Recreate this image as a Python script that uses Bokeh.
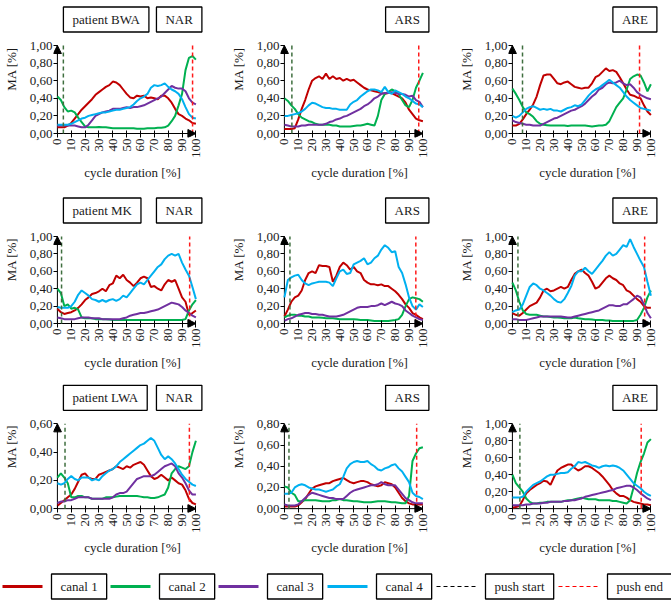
import math

from bokeh.plotting import figure
from bokeh.layouts import row, column
from bokeh.models import Label, Arrow, NormalHead, FixedTicker, CustomJSTickFormatter
from bokeh.embed import file_html
from bokeh.resources import INLINE

FONT = "Liberation Serif"
TEXT = "#1a1a1a"

cycle = [0, 2.5, 5, 7.5, 10, 12.5, 15, 17.5, 20, 22.5,
         25, 27.5, 30, 32.5, 35, 37.5, 40, 42.5, 45, 47.5,
         50, 52.5, 55, 57.5, 60, 62.5, 65, 67.5, 70, 72.5,
         75, 77.5, 80, 82.5, 85, 87.5, 90, 92.5, 95, 97.5,
         100]

# patient BWA
bwa_nar_c1 = [0.07, 0.07, 0.07, 0.09, 0.12, 0.17, 0.22, 0.27, 0.31, 0.35,
              0.39, 0.44, 0.47, 0.50, 0.53, 0.55, 0.59, 0.58, 0.55, 0.50,
              0.45, 0.41, 0.40, 0.43, 0.42, 0.43, 0.40, 0.41, 0.40, 0.39,
              0.43, 0.43, 0.40, 0.35, 0.28, 0.22, 0.20, 0.17, 0.15, 0.12,
              0.11]
bwa_nar_c2 = [0.42, 0.38, 0.30, 0.25, 0.26, 0.24, 0.18, 0.13, 0.08, 0.07,
              0.07, 0.07, 0.075, 0.07, 0.07, 0.065, 0.06, 0.06, 0.06, 0.06,
              0.06, 0.06, 0.06, 0.055, 0.055, 0.055, 0.06, 0.06, 0.06, 0.065,
              0.065, 0.07, 0.09, 0.14, 0.20, 0.32, 0.45, 0.72, 0.86, 0.88,
              0.84]
bwa_nar_c3 = [0.09, 0.09, 0.09, 0.09, 0.09, 0.09, 0.08, 0.07, 0.07, 0.10,
              0.15, 0.20, 0.22, 0.24, 0.25, 0.26, 0.28, 0.28, 0.28, 0.29,
              0.30, 0.29, 0.30, 0.30, 0.31, 0.32, 0.34, 0.36, 0.38, 0.40,
              0.42, 0.46, 0.50, 0.54, 0.52, 0.51, 0.51, 0.48, 0.40, 0.35,
              0.33]
bwa_nar_c4 = [0.10, 0.10, 0.10, 0.10, 0.11, 0.13, 0.15, 0.17, 0.18, 0.20,
              0.21, 0.22, 0.23, 0.24, 0.24, 0.25, 0.26, 0.27, 0.27, 0.28,
              0.29, 0.30, 0.33, 0.37, 0.40, 0.42, 0.45, 0.52, 0.55, 0.54,
              0.55, 0.57, 0.53, 0.50, 0.48, 0.45, 0.39, 0.30, 0.22, 0.18,
              0.17]

bwa_ars_c1 = [0.05, 0.05, 0.05, 0.06, 0.16, 0.28, 0.38, 0.50, 0.60, 0.63,
              0.65, 0.62, 0.68, 0.62, 0.65, 0.62, 0.63, 0.60, 0.62, 0.60,
              0.61, 0.58, 0.55, 0.52, 0.50, 0.49, 0.48, 0.47, 0.46, 0.45,
              0.46, 0.46, 0.44, 0.42, 0.40, 0.35, 0.27, 0.22, 0.17, 0.15,
              0.14]
bwa_ars_c2 = [0.40, 0.37, 0.32, 0.28, 0.22, 0.18, 0.16, 0.14, 0.13, 0.11,
              0.10, 0.10, 0.10, 0.10, 0.09, 0.09, 0.08, 0.08, 0.08, 0.08,
              0.085, 0.09, 0.09, 0.10, 0.11, 0.10, 0.09, 0.20, 0.38, 0.45,
              0.47, 0.50, 0.48, 0.45, 0.38, 0.32, 0.30, 0.38, 0.52, 0.60,
              0.69]
bwa_ars_c3 = [0.10, 0.09, 0.08, 0.08, 0.08, 0.09, 0.09, 0.10, 0.10, 0.10,
              0.10, 0.10, 0.11, 0.13, 0.14, 0.16, 0.17, 0.19, 0.20, 0.22,
              0.24, 0.26, 0.28, 0.31, 0.33, 0.36, 0.40, 0.42, 0.45, 0.46,
              0.46, 0.47, 0.46, 0.45, 0.45, 0.44, 0.42, 0.43, 0.38, 0.36,
              0.30]
bwa_ars_c4 = [0.20, 0.20, 0.21, 0.22, 0.23, 0.25, 0.28, 0.32, 0.35, 0.34,
              0.32, 0.30, 0.29, 0.29, 0.28, 0.28, 0.27, 0.27, 0.27, 0.33,
              0.36, 0.38, 0.42, 0.45, 0.48, 0.50, 0.50, 0.49, 0.47, 0.53,
              0.47, 0.45, 0.49, 0.47, 0.45, 0.42, 0.40, 0.37, 0.34, 0.33,
              0.30]

bwa_are_c1 = [0.09, 0.09, 0.11, 0.16, 0.22, 0.27, 0.33, 0.42, 0.55, 0.66,
              0.67, 0.67, 0.62, 0.57, 0.56, 0.58, 0.59, 0.56, 0.53, 0.52,
              0.51, 0.52, 0.52, 0.57, 0.64, 0.66, 0.70, 0.74, 0.71, 0.72,
              0.70, 0.64, 0.57, 0.50, 0.44, 0.43, 0.41, 0.40, 0.32, 0.25,
              0.21]
bwa_are_c2 = [0.51, 0.45, 0.38, 0.30, 0.24, 0.22, 0.19, 0.14, 0.11, 0.10,
              0.095, 0.09, 0.09, 0.09, 0.09, 0.09, 0.085, 0.09, 0.09, 0.09,
              0.09, 0.09, 0.085, 0.08, 0.085, 0.09, 0.09, 0.10, 0.14, 0.22,
              0.30, 0.35, 0.40, 0.50, 0.62, 0.65, 0.67, 0.66, 0.58, 0.48,
              0.56]
bwa_are_c3 = [0.15, 0.13, 0.12, 0.11, 0.10, 0.10, 0.09, 0.09, 0.09, 0.11,
              0.13, 0.15, 0.17, 0.18, 0.20, 0.22, 0.24, 0.26, 0.27, 0.29,
              0.31, 0.34, 0.38, 0.42, 0.45, 0.50, 0.52, 0.56, 0.58, 0.57,
              0.58, 0.60, 0.57, 0.55, 0.56, 0.52, 0.47, 0.44, 0.42, 0.40,
              0.39]
bwa_are_c4 = [0.20, 0.18, 0.20, 0.24, 0.28, 0.30, 0.31, 0.29, 0.27, 0.28,
              0.27, 0.28, 0.26, 0.26, 0.25, 0.27, 0.29, 0.30, 0.32, 0.31,
              0.33, 0.38, 0.43, 0.47, 0.50, 0.52, 0.55, 0.58, 0.61, 0.58,
              0.55, 0.52, 0.47, 0.42, 0.38, 0.35, 0.32, 0.29, 0.28, 0.27,
              0.26]

# patient MK
mk_nar_c1 = [0.17, 0.13, 0.11, 0.12, 0.13, 0.15, 0.18, 0.22, 0.27, 0.30,
             0.34, 0.35, 0.37, 0.40, 0.37, 0.44, 0.46, 0.55, 0.52, 0.56,
             0.50, 0.47, 0.43, 0.47, 0.52, 0.54, 0.52, 0.42, 0.43, 0.40,
             0.38, 0.45, 0.50, 0.48, 0.50, 0.40, 0.30, 0.25, 0.10, 0.12,
             0.15]
mk_nar_c2 = [0.40, 0.35, 0.20, 0.22, 0.17, 0.18, 0.16, 0.07, 0.06, 0.06,
             0.06, 0.05, 0.05, 0.05, 0.05, 0.045, 0.04, 0.04, 0.04, 0.04,
             0.04, 0.04, 0.04, 0.04, 0.04, 0.04, 0.04, 0.04, 0.04, 0.04,
             0.04, 0.04, 0.04, 0.04, 0.04, 0.04, 0.04, 0.05, 0.15, 0.22,
             0.27]
mk_nar_c3 = [0.07, 0.06, 0.05, 0.05, 0.05, 0.05, 0.06, 0.07, 0.07, 0.07,
             0.06, 0.06, 0.06, 0.05, 0.05, 0.05, 0.05, 0.05, 0.05, 0.06,
             0.07, 0.09, 0.10, 0.11, 0.12, 0.12, 0.13, 0.14, 0.15, 0.16,
             0.18, 0.20, 0.22, 0.24, 0.23, 0.22, 0.19, 0.15, 0.12, 0.09,
             0.07]
mk_nar_c4 = [0.19, 0.18, 0.18, 0.18, 0.20, 0.25, 0.33, 0.38, 0.35, 0.32,
             0.28, 0.27, 0.25, 0.27, 0.25, 0.27, 0.28, 0.26, 0.28, 0.32,
             0.30, 0.35, 0.40, 0.45, 0.47, 0.45, 0.50, 0.55, 0.60, 0.65,
             0.68, 0.74, 0.78, 0.80, 0.78, 0.80, 0.70, 0.62, 0.55, 0.42,
             0.28]

mk_ars_c1 = [0.08, 0.16, 0.25, 0.30, 0.32, 0.38, 0.50, 0.58, 0.60, 0.58,
             0.67, 0.66, 0.66, 0.65, 0.48, 0.55, 0.65, 0.70, 0.67, 0.62,
             0.65, 0.60, 0.58, 0.50, 0.47, 0.45, 0.45, 0.44, 0.45, 0.43,
             0.43, 0.40, 0.37, 0.33, 0.28, 0.22, 0.18, 0.12, 0.10, 0.07,
             0.05]
mk_ars_c2 = [0.07, 0.09, 0.10, 0.10, 0.09, 0.09, 0.08, 0.08, 0.07, 0.07,
             0.07, 0.065, 0.06, 0.06, 0.06, 0.055, 0.05, 0.05, 0.05, 0.05,
             0.05, 0.045, 0.04, 0.04, 0.04, 0.035, 0.03, 0.03, 0.03, 0.03,
             0.03, 0.035, 0.04, 0.05, 0.10, 0.20, 0.28, 0.30, 0.29, 0.28,
             0.25]
mk_ars_c3 = [0.03, 0.05, 0.06, 0.08, 0.10, 0.11, 0.12, 0.12, 0.11, 0.11,
             0.10, 0.10, 0.09, 0.08, 0.08, 0.08, 0.09, 0.10, 0.12, 0.14,
             0.16, 0.18, 0.19, 0.19, 0.19, 0.20, 0.20, 0.21, 0.23, 0.21,
             0.23, 0.25, 0.23, 0.22, 0.20, 0.15, 0.12, 0.09, 0.07, 0.05,
             0.04]
mk_ars_c4 = [0.30, 0.50, 0.53, 0.55, 0.56, 0.50, 0.46, 0.44, 0.46, 0.47,
             0.48, 0.48, 0.48, 0.47, 0.43, 0.52, 0.60, 0.62, 0.57, 0.58,
             0.68, 0.70, 0.72, 0.75, 0.68, 0.70, 0.75, 0.78, 0.85, 0.90,
             0.87, 0.82, 0.83, 0.65, 0.58, 0.45, 0.30, 0.20, 0.16, 0.22,
             0.19]

mk_are_c1 = [0.12, 0.10, 0.09, 0.12, 0.16, 0.20, 0.22, 0.24, 0.30, 0.38,
             0.40, 0.37, 0.38, 0.40, 0.42, 0.40, 0.42, 0.50, 0.57, 0.60,
             0.62, 0.58, 0.55, 0.48, 0.40, 0.42, 0.47, 0.52, 0.55, 0.52,
             0.50, 0.46, 0.44, 0.38, 0.36, 0.32, 0.28, 0.25, 0.20, 0.18,
             0.18]
mk_are_c2 = [0.47, 0.38, 0.25, 0.15, 0.11, 0.10, 0.10, 0.10, 0.09, 0.08,
             0.08, 0.075, 0.07, 0.07, 0.065, 0.06, 0.06, 0.06, 0.07, 0.06,
             0.055, 0.05, 0.05, 0.045, 0.04, 0.04, 0.04, 0.035, 0.035, 0.03,
             0.03, 0.03, 0.03, 0.03, 0.03, 0.03, 0.04, 0.10, 0.18, 0.30,
             0.38]
mk_are_c3 = [0.05, 0.05, 0.04, 0.04, 0.04, 0.05, 0.06, 0.07, 0.08, 0.08,
             0.08, 0.08, 0.08, 0.08, 0.08, 0.075, 0.07, 0.07, 0.08, 0.09,
             0.10, 0.11, 0.12, 0.13, 0.14, 0.15, 0.17, 0.19, 0.21, 0.21,
             0.20, 0.20, 0.22, 0.22, 0.25, 0.28, 0.32, 0.30, 0.22, 0.12,
             0.06]
mk_are_c4 = [0.13, 0.15, 0.16, 0.22, 0.32, 0.42, 0.46, 0.44, 0.40, 0.38,
             0.35, 0.32, 0.28, 0.25, 0.24, 0.28, 0.35, 0.43, 0.55, 0.60,
             0.60, 0.64, 0.60, 0.57, 0.62, 0.67, 0.72, 0.78, 0.82, 0.78,
             0.80, 0.85, 0.90, 0.88, 0.97, 0.88, 0.80, 0.72, 0.65, 0.48,
             0.32]

# patient LWA
lwa_nar_c1 = [0.02, 0.04, 0.06, 0.08, 0.10, 0.14, 0.19, 0.24, 0.25, 0.22,
              0.21, 0.21, 0.24, 0.25, 0.26, 0.27, 0.28, 0.30, 0.29, 0.28,
              0.30, 0.29, 0.31, 0.32, 0.33, 0.31, 0.27, 0.23, 0.21, 0.22,
              0.24, 0.22, 0.20, 0.22, 0.20, 0.18, 0.17, 0.13, 0.07, 0.04,
              0.03]
lwa_nar_c2 = [0.22, 0.25, 0.22, 0.18, 0.08, 0.08, 0.09, 0.09, 0.08, 0.08,
              0.07, 0.07, 0.07, 0.07, 0.08, 0.08, 0.08, 0.085, 0.09, 0.09,
              0.09, 0.09, 0.09, 0.09, 0.085, 0.08, 0.08, 0.075, 0.075, 0.08,
              0.09, 0.10, 0.15, 0.25, 0.28, 0.30, 0.29, 0.28, 0.30, 0.40,
              0.48]
lwa_nar_c3 = [0.04, 0.05, 0.05, 0.06, 0.06, 0.07, 0.08, 0.08, 0.08, 0.08,
              0.07, 0.07, 0.07, 0.07, 0.07, 0.07, 0.08, 0.10, 0.11, 0.11,
              0.12, 0.15, 0.18, 0.21, 0.22, 0.23, 0.23, 0.23, 0.24, 0.26,
              0.28, 0.30, 0.31, 0.32, 0.30, 0.25, 0.22, 0.18, 0.13, 0.10,
              0.10]
lwa_nar_c4 = [0.18, 0.17, 0.18, 0.21, 0.23, 0.21, 0.20, 0.22, 0.22, 0.22,
              0.20, 0.21, 0.20, 0.23, 0.25, 0.27, 0.28, 0.30, 0.33, 0.35,
              0.37, 0.39, 0.41, 0.43, 0.45, 0.46, 0.48, 0.50, 0.48, 0.43,
              0.38, 0.35, 0.37, 0.35, 0.32, 0.28, 0.24, 0.21, 0.19, 0.17,
              0.16]

lwa_ars_c1 = [0.02, 0.02, 0.02, 0.02, 0.03, 0.06, 0.09, 0.14, 0.19, 0.21,
              0.22, 0.23, 0.24, 0.24, 0.26, 0.27, 0.28, 0.29, 0.27, 0.25,
              0.24, 0.25, 0.26, 0.26, 0.25, 0.23, 0.22, 0.21, 0.22, 0.25,
              0.24, 0.23, 0.20, 0.15, 0.10, 0.07, 0.05, 0.04, 0.04, 0.04,
              0.04]
lwa_ars_c2 = [0.21, 0.20, 0.15, 0.13, 0.07, 0.07, 0.08, 0.08, 0.08, 0.08,
              0.075, 0.07, 0.07, 0.07, 0.08, 0.08, 0.09, 0.08, 0.08, 0.075,
              0.07, 0.07, 0.065, 0.06, 0.06, 0.06, 0.065, 0.07, 0.07, 0.07,
              0.065, 0.06, 0.06, 0.055, 0.05, 0.05, 0.12, 0.45, 0.52, 0.57,
              0.58]
lwa_ars_c3 = [0.04, 0.03, 0.03, 0.03, 0.04, 0.07, 0.10, 0.13, 0.15, 0.14,
              0.13, 0.12, 0.11, 0.10, 0.10, 0.09, 0.09, 0.09, 0.12, 0.15,
              0.17, 0.18, 0.19, 0.20, 0.21, 0.22, 0.22, 0.23, 0.25, 0.23,
              0.22, 0.22, 0.22, 0.18, 0.14, 0.10, 0.08, 0.06, 0.05, 0.05,
              0.05]
lwa_ars_c4 = [0.14, 0.14, 0.15, 0.20, 0.22, 0.23, 0.22, 0.20, 0.19, 0.18,
              0.18, 0.17, 0.16, 0.17, 0.18, 0.21, 0.23, 0.30, 0.38, 0.42,
              0.44, 0.45, 0.44, 0.44, 0.45, 0.42, 0.40, 0.37, 0.36, 0.38,
              0.39, 0.41, 0.42, 0.38, 0.35, 0.30, 0.25, 0.15, 0.12, 0.11,
              0.09]

lwa_are_c1 = [0.01, 0.02, 0.03, 0.10, 0.18, 0.22, 0.25, 0.28, 0.30, 0.33,
              0.32, 0.28, 0.37, 0.45, 0.48, 0.50, 0.52, 0.52, 0.48, 0.45,
              0.47, 0.50, 0.50, 0.48, 0.45, 0.42, 0.38, 0.33, 0.28, 0.22,
              0.18, 0.15, 0.15, 0.13, 0.10, 0.08, 0.07, 0.06, 0.05, 0.05,
              0.04]
lwa_are_c2 = [0.40, 0.30, 0.25, 0.20, 0.12, 0.08, 0.06, 0.06, 0.07, 0.07,
              0.08, 0.08, 0.08, 0.08, 0.08, 0.09, 0.10, 0.10, 0.11, 0.12,
              0.13, 0.12, 0.11, 0.11, 0.11, 0.10, 0.10, 0.10, 0.10, 0.09,
              0.09, 0.08, 0.07, 0.06, 0.10, 0.25, 0.42, 0.55, 0.65, 0.78,
              0.82]
lwa_are_c3 = [0.04, 0.04, 0.04, 0.04, 0.05, 0.05, 0.06, 0.06, 0.06, 0.07,
              0.07, 0.08, 0.08, 0.08, 0.08, 0.09, 0.09, 0.10, 0.10, 0.11,
              0.12, 0.14, 0.15, 0.16, 0.17, 0.18, 0.19, 0.20, 0.21, 0.22,
              0.24, 0.25, 0.26, 0.27, 0.27, 0.25, 0.22, 0.18, 0.15, 0.12,
              0.10]
lwa_are_c4 = [0.13, 0.13, 0.13, 0.14, 0.20, 0.24, 0.28, 0.30, 0.32, 0.35,
              0.38, 0.40, 0.40, 0.41, 0.42, 0.42, 0.43, 0.47, 0.50, 0.55,
              0.54, 0.55, 0.53, 0.51, 0.50, 0.48, 0.50, 0.51, 0.50, 0.51,
              0.50, 0.48, 0.45, 0.40, 0.35, 0.30, 0.27, 0.24, 0.20, 0.17,
              0.15]

patients = ["patient BWA", "patient MK", "patient LWA"]
movements = ["NAR", "ARS", "ARE"]
y_top = [[1.0, 1.0, 1.0], [1.0, 1.0, 1.0], [0.6, 0.8, 1.0]]
push_start = [[4.3, 5.4, 7.3], [3.0, 4.0, 4.0], [5.5, 3.3, 5.4]]
push_end = [[97.6, 97.0, 91.8], [95.5, 94.9, 95.5], [95.3, 95.5, 93.0]]

panel_data = [
    [(bwa_nar_c1, bwa_nar_c2, bwa_nar_c3, bwa_nar_c4),
     (bwa_ars_c1, bwa_ars_c2, bwa_ars_c3, bwa_ars_c4),
     (bwa_are_c1, bwa_are_c2, bwa_are_c3, bwa_are_c4)],
    [(mk_nar_c1, mk_nar_c2, mk_nar_c3, mk_nar_c4),
     (mk_ars_c1, mk_ars_c2, mk_ars_c3, mk_ars_c4),
     (mk_are_c1, mk_are_c2, mk_are_c3, mk_are_c4)],
    [(lwa_nar_c1, lwa_nar_c2, lwa_nar_c3, lwa_nar_c4),
     (lwa_ars_c1, lwa_ars_c2, lwa_ars_c3, lwa_ars_c4),
     (lwa_are_c1, lwa_are_c2, lwa_are_c3, lwa_are_c4)],
]

canal_names = ["canal 1", "canal 2", "canal 3", "canal 4"]
canal_colors = ["#c00000", "#00b050", "#7030a0", "#00b0f0"]
start_color = "#3f6f3f"
end_color = "#ff1a1a"

# layout (pixels)
col_widths = [227, 228, 216]
row_heights = [191, 189, 178]
frame_heights = [88, 87, 88]   # height of the 0..max part of each plot
AXIS_X = 53                    # where x = 0 sits inside each figure
PX100 = 142                    # pixels for 0..100 %
RIGHT_ROOM = 16                # frame room right of 100 % for the boxes
EXT = 45                       # room above the y maximum for the boxes
GAP = 4                        # frame room left of / below the axis lines
PAD = (9, 5)


def box_label(text, x, y, align, x_off, y_off):
    return Label(x=x, y=y, text=text, text_align=align, text_baseline="middle",
                 x_offset=x_off, y_offset=y_off,
                 text_font=FONT, text_font_size="13px", text_color=TEXT,
                 border_line_color="black", border_line_width=1.3,
                 background_fill_color="white", padding=PAD)


def make_panel(r, c):
    w = col_widths[c]
    h = row_heights[r]
    fh = frame_heights[r]
    ymax = y_top[r][c]
    ux = 100 / PX100          # data units per pixel, x
    uy = ymax / fh            # data units per pixel, y
    frame_w = GAP + PX100 + RIGHT_ROOM
    p = figure(width=w, height=h, title=None,
               x_range=(-GAP * ux, (PX100 + RIGHT_ROOM) * ux),
               y_range=(-GAP * uy, ymax + EXT * uy),
               output_backend="svg", toolbar_location=None,
               min_border_left=AXIS_X - GAP, min_border_right=w - (AXIS_X - GAP) - frame_w,
               min_border_top=0, min_border_bottom=h - EXT - fh - GAP)
    p.xgrid.grid_line_color = None
    p.ygrid.grid_line_color = None
    p.outline_line_color = None

    # axis lines at x = 0 and y = 0
    p.segment(x0=[0, 0], y0=[0, 0], x1=[0, 100], y1=[ymax, 0], line_color="black", line_width=1)

    for vals, color in zip(panel_data[r][c], canal_colors):
        p.line(cycle, vals, line_color=color, line_width=2)

    p.segment(x0=[push_start[r][c]], y0=[0], x1=[push_start[r][c]], y1=[ymax],
              line_color=start_color, line_dash="4 3", line_width=1.5)
    p.segment(x0=[push_end[r][c]], y0=[0], x1=[push_end[r][c]], y1=[ymax],
              line_color=end_color, line_dash="4 3", line_width=1.5)

    # axis arrow heads
    p.add_layout(Arrow(end=NormalHead(size=8, fill_color="black", line_color="black"),
                       x_start=0, y_start=ymax * 0.9, x_end=0, y_end=ymax,
                       line_color="black", line_width=1))
    p.add_layout(Arrow(end=NormalHead(size=8, fill_color="black", line_color="black"),
                       x_start=95, y_start=0, x_end=100, y_end=0,
                       line_color="black", line_width=1))

    p.xaxis.bounds = (0, 100)
    p.yaxis.bounds = (0, ymax)
    p.xaxis.ticker = FixedTicker(ticks=list(range(0, 101, 10)))
    n = int(round(ymax / 0.2))
    p.yaxis.ticker = FixedTicker(ticks=[round(0.2 * i, 1) for i in range(n + 1)])
    p.yaxis.formatter = CustomJSTickFormatter(code="return tick.toFixed(2).replace('.', ',');")
    p.xaxis.major_label_orientation = math.pi / 2

    p.xaxis.axis_label = "cycle duration [%]"
    p.yaxis.axis_label = "MA [%]"
    for ax in (p.xaxis, p.yaxis):
        ax.axis_line_color = None
        ax.major_tick_line_color = "black"
        ax.minor_tick_line_color = None
        ax.axis_label_text_font = FONT
        ax.axis_label_text_font_size = "13px"
        ax.axis_label_text_font_style = "normal"
        ax.axis_label_text_color = TEXT
        ax.major_label_text_font = FONT
        ax.major_label_text_font_size = "13px"
        ax.major_label_text_color = TEXT
    # ticks start at the frame edge and reach (x ticks: cross) the axis lines
    p.xaxis.major_tick_in = GAP + 3
    p.xaxis.major_tick_out = 0
    p.xaxis.major_label_standoff = 1
    p.xaxis.axis_label_standoff = 4
    p.yaxis.major_tick_in = GAP
    p.yaxis.major_tick_out = 0
    p.yaxis.major_label_standoff = 1
    p.yaxis.axis_label_standoff = 8

    if c == 0:
        p.add_layout(box_label(patients[r], 0, ymax, "left", PAD[0] - 3, 26))
    p.add_layout(box_label(movements[c], 100, ymax, "right", 15 - PAD[0], 26))
    return p


rows = [row(*[make_panel(r, c) for c in range(3)]) for r in range(3)]

# legend strip
legend_names = canal_names + ["push start", "push end"]
legend_colors = canal_colors + ["black", "#ff0000"]
legend_starts = [2, 110, 218, 327, 436, 558]
SEG = 40
LEG_Y = 15

leg = figure(width=671, height=43, x_range=(0, 671), y_range=(0, 43), title=None,
             output_backend="svg", toolbar_location=None, min_border=0,
             x_axis_type=None, y_axis_type=None)
leg.outline_line_color = None
for i, (s, name, col) in enumerate(zip(legend_starts, legend_names, legend_colors)):
    if i < 4:
        leg.line([s, s + SEG], [LEG_Y, LEG_Y], line_color=col, line_width=3)
    else:
        leg.line([s, s + SEG], [LEG_Y, LEG_Y], line_color=col, line_dash="4 3", line_width=1)
    leg.add_layout(box_label(name, s + SEG, LEG_Y, "left", PAD[0], 0))

p = column(*rows, leg)

open("out.html", "w").write(file_html(p, INLINE))
